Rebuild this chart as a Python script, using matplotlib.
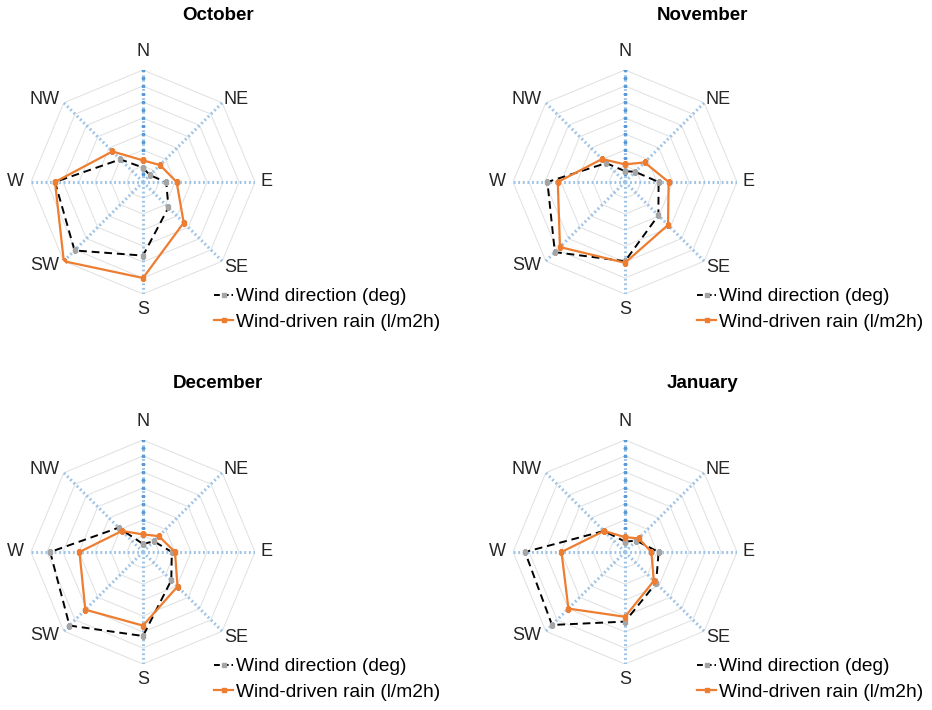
import numpy as np
import matplotlib.pyplot as plt
from matplotlib.lines import Line2D

plt.rcParams['font.family'] = ['Liberation Sans', 'DejaVu Sans']

directions = ['N', 'NE', 'E', 'SE', 'S', 'SW', 'W', 'NW']
months = ['October', 'November', 'December', 'January']

# values in grid-ring units (0..7)
wind_dir = {
    'October':  [0.9, 0.6, 1.45, 2.25, 4.6, 6.05, 5.5, 2.0],
    'November': [0.68, 0.9, 2.1, 2.95, 4.95, 6.2, 4.85, 1.67],
    'December': [0.5, 0.95, 1.8, 2.5, 5.25, 6.5, 5.8, 2.15],
    'January':  [0.65, 1.0, 2.1, 2.75, 4.35, 6.45, 6.25, 1.86],
}
rain = {
    'October':  [1.35, 1.5, 2.1, 3.6, 6.0, 7.0, 5.5, 2.7],
    'November': [1.1, 1.73, 2.73, 3.8, 5.05, 5.75, 4.2, 2.03],
    'December': [1.1, 1.4, 2.0, 3.05, 4.6, 5.1, 3.97, 1.86],
    'January':  [0.93, 1.2, 1.65, 2.55, 4.05, 5.0, 3.97, 1.86],
}
rings = np.arange(1, 8)
rmax = 7

# chart centres, title and legend anchors in pixels
W, H = 932, 710
centres = {'October': (143, 182), 'November': (625, 182),
           'December': (143, 552), 'January': (625, 552)}
titles = {'October': (218, 16), 'November': (702, 16),
          'December': (218, 384), 'January': (702, 384)}
legends = {'October': (214, 288), 'November': (697, 288),
           'December': (214, 658), 'January': (697, 658)}
R = 112
# label offsets from the spoke ends (pixels, y up)
lab_off = [(0, 18), (14, 3), (12, 0), (14, -6), (0, -16), (-19, -4), (-16, 0), (-19, 3)]

orange = '#ED7D31'
marker_gray = '#A5A5A5'
spoke_blue = '#9DC3E6'

fig = plt.figure(figsize=(W / 100, H / 100), dpi=100)

ang = np.deg2rad(np.arange(0, 360, 45))
ang_c = np.append(ang, ang[0])

for m in months:
    cx, cy = centres[m]
    ax = fig.add_axes([(cx - R) / W, (H - cy - R) / H, 2 * R / W, 2 * R / H],
                      projection='polar')
    ax.set_theta_zero_location('N')
    ax.set_theta_direction(-1)
    ax.set_ylim(0, rmax)
    ax.grid(False)
    ax.set_xticks([])
    ax.set_yticks([])
    ax.spines['polar'].set_visible(False)
    ax.patch.set_alpha(0)

    # octagonal rings
    for r in rings:
        ax.plot(ang_c, np.full(9, r), color='#E0E0E0', lw=0.7, zorder=1)
    # spokes
    for a in ang:
        ax.plot([a, a], [0, rmax], color=spoke_blue, lw=2.2, ls=(0, (0.6, 0.9)), zorder=2)
    # tick marks on the N axis
    ax.plot(np.zeros(14), np.arange(0.5, 7.5, 0.5), ls='none', marker='_', ms=3.5,
            mew=1.0, color='#5B9BD5', zorder=2)

    wd = wind_dir[m] + wind_dir[m][:1]
    rn = rain[m] + rain[m][:1]
    ax.plot(ang_c, wd, color='black', lw=1.4, ls=(0, (4, 2.5)), marker='s', ms=2.8,
            mfc=marker_gray, mec=marker_gray, zorder=4)
    ax.plot(ang_c, rn, color=orange, lw=1.6, marker='s', ms=2.8,
            mfc=orange, mec=orange, zorder=5)

    for a, lab, off in zip(ang, directions, lab_off):
        ax.annotate(lab, xy=(a, rmax), xytext=off, textcoords='offset pixels',
                    ha='center', va='center', fontsize=13, color='#262626',
                    annotation_clip=False)

    tx, ty = titles[m]
    fig.text(tx / W, 1 - ty / H, m, ha='center', va='center', fontsize=13.5,
             fontweight='bold')

    handles = [
        Line2D([], [], color='black', lw=1.4, ls=(0, (3, 1.5)), marker='s', ms=2.8,
               mfc=marker_gray, mec=marker_gray),
        Line2D([], [], color=orange, lw=1.6, marker='s', ms=2.8, mfc=orange, mec=orange),
    ]
    lx, ly = legends[m]
    fig.legend(handles, ['Wind direction (deg)', 'Wind-driven rain (l/m2h)'],
               loc='upper left', bbox_to_anchor=(lx / W, 1 - ly / H),
               frameon=False, fontsize=13.8, handlelength=1.0, handletextpad=0.15,
               borderpad=0, borderaxespad=0, labelspacing=0.42)

fig.savefig('out.png', dpi=100)
